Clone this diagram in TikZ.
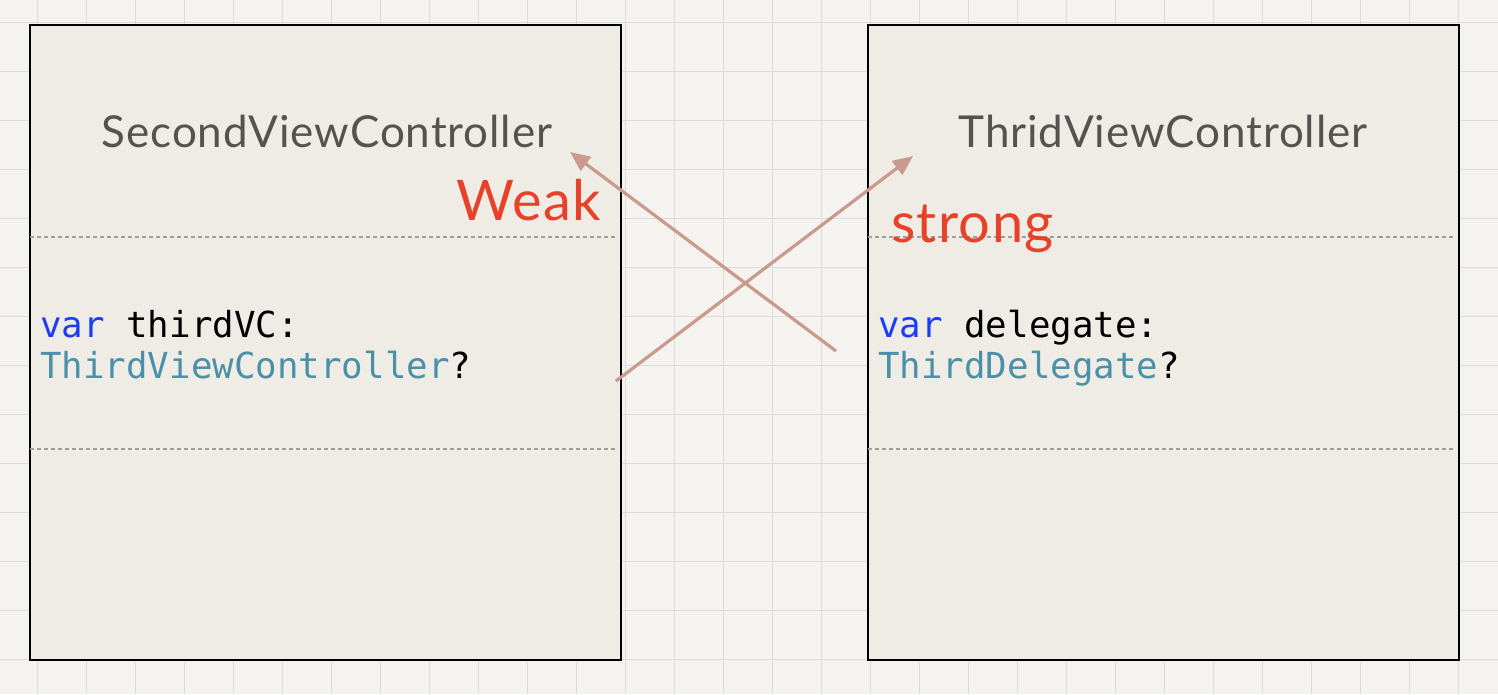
\documentclass[tikz,border=0pt]{standalone}
\usepackage{fontspec}
\setmainfont{Lato}
\setmonofont{DejaVu Sans Mono}
\usetikzlibrary{arrows.meta, positioning}

\definecolor{paper}{HTML}{F4F3F0}
\definecolor{gridline}{HTML}{DEDCD8}
\definecolor{boxfill}{HTML}{EFECE6}
\definecolor{titlegray}{HTML}{55524F}
\definecolor{redlabel}{HTML}{E8412A}
\definecolor{refarrow}{HTML}{C99A8D}
\definecolor{kwblue}{HTML}{1C3DF5}
\definecolor{typeteal}{HTML}{4A90A8}
\definecolor{sepgray}{HTML}{A09E9A}

\begin{document}
\begin{tikzpicture}[
    x=1pt, y=-1pt,
    vcbox/.style={draw, line width=1.8pt, fill=boxfill, inner sep=0pt, outer sep=0pt, minimum width=591pt, minimum height=635pt},
    vctitle/.style={anchor=base, text=titlegray, font=\fontsize{44}{50}\selectfont\addfontfeatures{LetterSpace=2}},
    codeline/.style={anchor=base west, inner sep=0pt, font=\ttfamily\fontsize{35.8}{40}\selectfont},
    reflabel/.style={anchor=base west, inner sep=0pt, text=redlabel, font=\fontsize{56}{60}\selectfont\addfontfeatures{LetterSpace=2.5}},
    refline/.style={draw=refarrow, line width=3.2pt, -{Triangle[length=20pt, width=17pt]}},
    divider/.style={draw=sepgray, line width=1.3pt, dash pattern=on 4pt off 3pt}
]
    \useasboundingbox (0,0) rectangle (1498,694);
    \fill[paper] (0,0) rectangle (1498,694);
    % graph paper
    \foreach \gx in {0,...,30}
        \draw[gridline, line width=1.4pt] (37.3+49*\gx,0) -- (37.3+49*\gx,694);
    \foreach \gy in {0,...,14}
        \draw[gridline, line width=1.4pt] (0,22.7+49*\gy) -- (1498,22.7+49*\gy);

    % the two controllers
    \node[vcbox] (second) at (325.5,342.5) {};
    \node[vcbox] (third) at (1163.5,342.5) {};

    \draw[divider] (30,237) -- (617,237);
    \draw[divider] (30,449) -- (617,449);
    \draw[divider] (868,237) -- (1455,237);
    \draw[divider] (868,449) -- (1455,449);

    \node[vctitle] (secondtitle) at (327,147) {SecondViewController};
    \node[vctitle] (thirdtitle) at (1163,147) {ThridViewController};

    \node[codeline] (secondvar) at (40,337) {\textcolor{kwblue}{var} thirdVC:};
    \node[codeline] (secondtype) at (40,378) {\textcolor{typeteal}{ThirdViewController}?};
    \node[codeline] (thirdvar) at (878,337) {\textcolor{kwblue}{var} delegate:};
    \node[codeline] (thirdtype) at (878,378) {\textcolor{typeteal}{ThirdDelegate}?};

    % references
    \coordinate (weakfrom) at (836,351);
    \coordinate (weakto) at (570,152);
    \coordinate (strongfrom) at (616,381);
    \coordinate (strongto) at (913,156);
    \draw[refline] (weakfrom) -- (weakto);
    \draw[refline] (strongfrom) -- (strongto);

    \node[reflabel] (weak) at (456,220) {Weak};
    \node[reflabel] (strong) at (891,242) {strong};
\end{tikzpicture}
\end{document}
